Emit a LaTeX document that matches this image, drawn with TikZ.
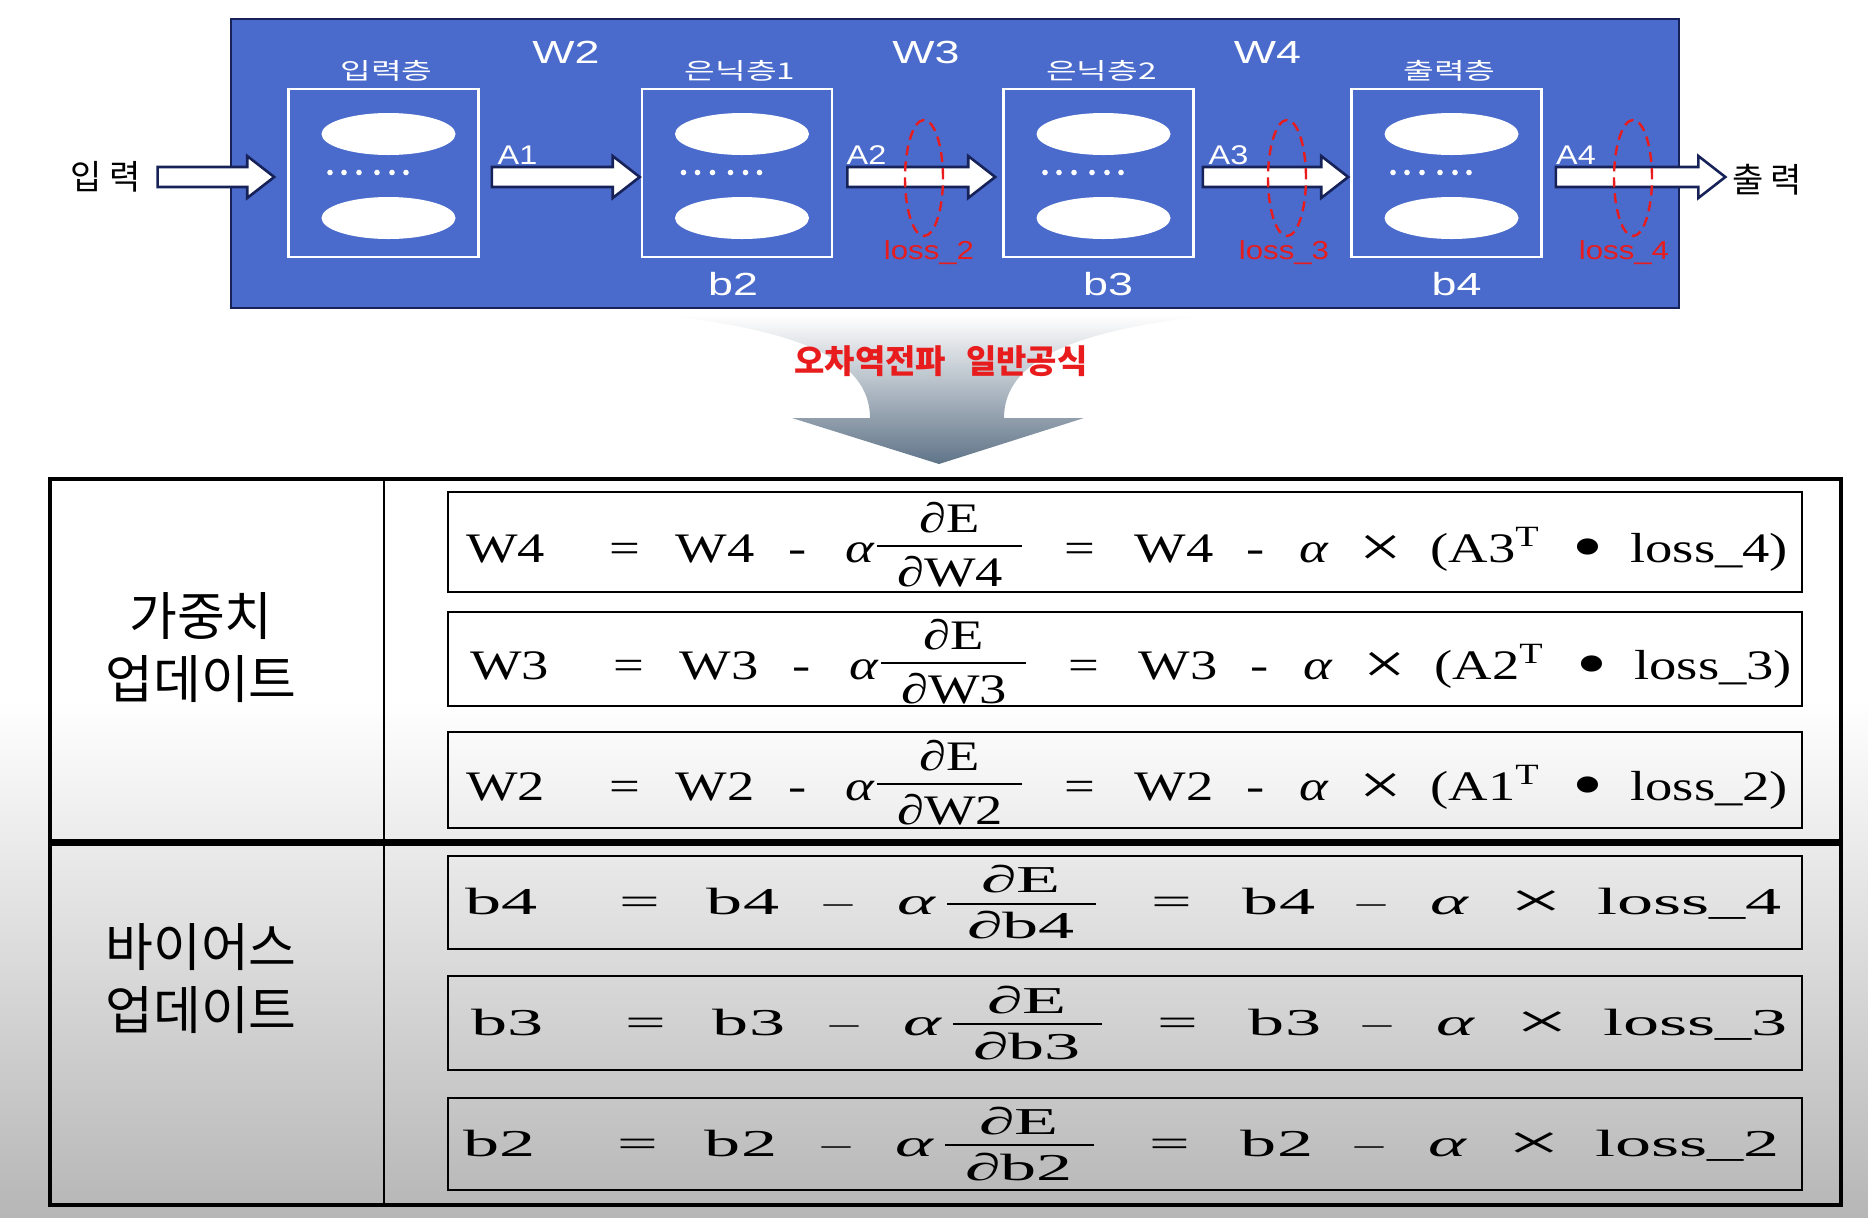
\documentclass[tikz,border=0pt]{standalone}
\usepackage{fontspec}
\usepackage{tikz}
\usetikzlibrary{calc,positioning}
\setmainfont{Liberation Serif}
\newfontfamily\kr{Noto Sans CJK KR}
\newfontfamily\krw[FakeStretch=1.45]{Noto Sans CJK KR}
\newfontfamily\lbw[FakeStretch=1.4]{Liberation Sans}
\newfontfamily\lbs[FakeStretch=1.2]{Liberation Sans}
\newfontfamily\eqw[FakeStretch=1.3]{Liberation Serif}
\newfontfamily\eqb[FakeStretch=1.9]{Liberation Serif}
\definecolor{slide}{RGB}{74,107,204}
\definecolor{navy}{RGB}{22,34,88}
\definecolor{lossred}{RGB}{232,28,28}
\definecolor{bggray}{RGB}{182,182,182}
\definecolor{arrgray}{RGB}{96,116,136}
\newcommand{\blockarrow}[2]{\draw[barrow] ($(#1)+(0,-10)$) -- ($(#2)+(-27,-10)$) -- ($(#2)+(-27,-21)$) -- (#2) -- ($(#2)+(-27,21)$) -- ($(#2)+(-27,10)$) -- ($(#1)+(0,10)$) -- cycle;}
\begin{document}
\begin{tikzpicture}[x=0.5pt,y=-0.5pt,
  layer/.style={draw=white,line width=1.3pt,minimum width=95pt,minimum height=84pt,inner sep=0pt},
  barrow/.style={fill=white,draw=navy,line width=1.3pt},
  loss/.style={draw=lossred,line width=1.2pt,dash pattern=on 5pt off 3pt},
  wlab/.style={text=white,font=\lbw\fontsize{16}{18}\selectfont,inner sep=0pt,anchor=base},
  alab/.style={text=white,font=\lbs\fontsize{13.5}{15}\selectfont,inner sep=0pt,anchor=base},
  llab/.style={text=lossred,font=\lbs\fontsize{13}{15}\selectfont,inner sep=0pt,anchor=base},
  klab/.style={text=white,font=\krw\fontsize{11.5}{13}\selectfont,inner sep=0pt},
  fbox/.style={draw,line width=1.1pt,minimum width=677pt,inner sep=0pt},
  tok/.style={inner sep=0pt,anchor=base}]
\useasboundingbox (0,0) rectangle (1868,1217);
\fill[white] (0,0) rectangle (1868,700);
\shade[top color=white,bottom color=bggray] (0,700) rectangle (1868,1217);

\fill[slide,draw=navy,line width=1pt] (231,19) rectangle (1679,308);
\foreach \i/\x/\lab in {1/383.5/입력층,2/737/은닉층1,3/1098.5/은닉층2,4/1446.5/출력층}{
  \node[layer] (L\i) at (\x,173) {};
  \fill[white] (\x+5,134) ellipse [x radius=33.5pt,y radius=10.5pt];
  \fill[white] (\x+5,218) ellipse [x radius=33.5pt,y radius=10.5pt];
  \foreach \dd in {-53.5,-39.5,-24.5,-6.5,8.5,22.5} \fill[white] (\x+\dd,172.5) circle (1.4pt);
  \node[klab] (t\i) at (\x+3,71) {\lab};
}
\foreach \i/\x in {2/566,3/926,4/1267.5} \node[wlab] (W\i) at (\x,63) {W\i};
\foreach \i/\x in {2/733,3/1108,4/1456.5} \node[wlab] (b\i) at (\x,295) {b\i};
\foreach \i/\x in {1/517.5,2/866.5,3/1228.5,4/1576} \node[alab] (A\i) at (\x,164) {A\i};
\node[font=\kr\fontsize{17}{19}\selectfont,inner sep=0pt] (inp) at (106,177) {입\kern4pt 력};
\node[font=\kr\fontsize{17}{19}\selectfont,inner sep=0pt] (outp) at (1767,180) {출\kern3pt 력};

\coordinate (s0) at ($(inp.east)+(16,0)$);
\coordinate (e0) at ($(L1.west)+(-13,4)$);
\coordinate (s1) at ($(L1.east)+(12,4)$);
\coordinate (e1) at ($(L2.west)+(-1,4)$);
\coordinate (s2) at ($(L2.east)+(14,4)$);
\coordinate (e2) at ($(L3.west)+(-7,4)$);
\coordinate (s3) at ($(L3.east)+(8,4)$);
\coordinate (e3) at ($(L4.west)+(-2,4)$);
\coordinate (s4) at ($(L4.east)+(13,4)$);
\coordinate (e4) at ($(outp.west)+(-7,-3)$);
\foreach \i in {0,...,4} \blockarrow{s\i}{e\i};

\foreach \i/\x/\lx in {2/924/929,3/1287/1284,4/1633/1624}{
  \draw[loss] (\x,178) ellipse [x radius=9.5pt,y radius=29pt];
  \node[llab] (loss\i) at (\lx,259) {loss\_\i};
}

\shade[top color=white,bottom color=arrgray] (660,315) .. controls (800,330) and (870,360) .. (870,418) -- (792,418) -- (939,464) -- (1084,418) -- (1004,418) .. controls (1004,360) and (1074,330) .. (1214,315) -- cycle;
\node[text=lossred,font=\kr\bfseries\fontsize{16.5}{19}\selectfont,inner sep=0pt] (title) at (941,361) {오차역전파\hspace{0.6em}일반공식};

\draw[line width=1.8pt] (50,479) rectangle (1841,1205);
\draw[line width=1.3pt] (384,479) -- (384,1205);
\draw[line width=3.5pt] (50,842) -- (1841,842);
\node[font=\kr\fontsize{26}{31.5}\selectfont,align=center] (wt) at (201,647.5) {가중치\\업데이트};
\node[font=\kr\fontsize{26}{31.5}\selectfont,align=center] (bs) at (201,979) {바이어스\\업데이트};

\foreach \rw/\yc/\hh in {1/542/50pt,2/659/47pt,3/780/48pt,4/902.5/46.5pt,5/1023/47pt,6/1144/46pt}
  \node[fbox,minimum height=\hh] (f\rw) at (1125,\yc) {};

\foreach \rw/\yc/\dx/\wn/\an in {1/542/0/4/3,2/659/4/3/2,3/780/0/2/1}{
 \begin{scope}[shift={(\dx,\yc)},every node/.append style={tok,font=\eqw\fontsize{21}{25}\selectfont}]
  \node[anchor=base west] (w\rw-1) at (466,20) {W\wn};
  \node (w\rw-2) at (625,20) {=};
  \node (w\rw-3) at (715,20) {W\wn};
  \node (w\rw-4) at (798,20) {-};
  \node (w\rw-5) at (860,20) {\itshape α};
  \node (w\rw-6) at (950,-10) {∂E};
  \node (w\rw-7) at (950,44) {∂W\wn};
  \draw[line width=1pt] (877,4) -- (1022,4);
  \node (w\rw-8) at (1080,20) {=};
  \node (w\rw-9) at (1174,20) {W\wn};
  \node (w\rw-10) at (1256,20) {-};
  \node (w\rw-11) at (1314,20) {\itshape α};
  \node[font=\eqw\fontsize{29}{30}\selectfont] (w\rw-12) at (1381,24) {×};
  \node[anchor=base west] (w\rw-13) at (1430,20) {(A\an\textsuperscript{T}};
  \node[font=\eqw\fontsize{34}{36}\selectfont] (w\rw-14) at (1588,27) {•};
  \node[anchor=base west] (w\rw-15) at (1630,20) {loss\_\wn)};
 \end{scope}}

\foreach \rw/\yc/\dx/\bn in {4/902.5/0/4,5/1023/6/3,6/1144/-2/2}{
 \begin{scope}[shift={(\dx,\yc)},every node/.append style={tok,font=\eqb\fontsize{19}{23}\selectfont}]
  \node[anchor=base west] (b\rw-1) at (465,12) {b\bn};
  \node (b\rw-2) at (640,12) {=};
  \node (b\rw-3) at (743,12) {b\bn};
  \node[font=\eqb\fontsize{15}{17}\selectfont] (b\rw-4) at (838,10) {–};
  \node (b\rw-5) at (916,12) {\itshape α};
  \node (b\rw-6) at (1021,-10) {∂E};
  \node (b\rw-7) at (1021,36) {∂b\bn};
  \draw[line width=1pt] (947,1) -- (1096,1);
  \node (b\rw-8) at (1172,12) {=};
  \node (b\rw-9) at (1279,12) {b\bn};
  \node[font=\eqb\fontsize{15}{17}\selectfont] (b\rw-10) at (1371,10) {–};
  \node (b\rw-11) at (1449,12) {\itshape α};
  \node[font=\eqb\fontsize{25}{27}\selectfont] (b\rw-12) at (1536,15) {×};
  \node[anchor=base west] (b\rw-13) at (1597,12) {loss\_\bn};
 \end{scope}}
\end{tikzpicture}
\end{document}
